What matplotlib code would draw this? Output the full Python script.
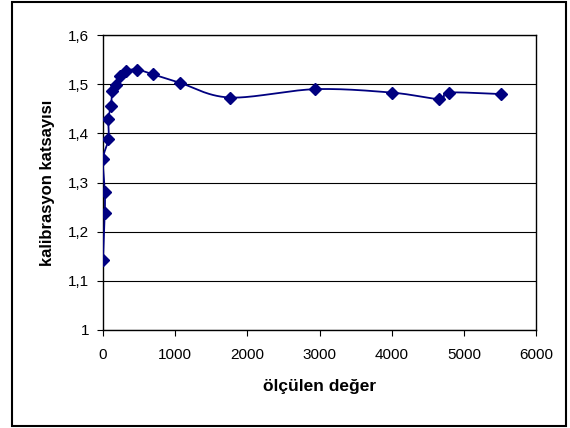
import numpy as np
import matplotlib.pyplot as plt
from matplotlib.patches import Rectangle
from matplotlib.ticker import FuncFormatter

plt.rcParams['font.family'] = ['Liberation Sans', 'DejaVu Sans']

# olculen deger vs kalibrasyon katsayisi
olcum = [0, 25, 25, 0, 75, 75, 110, 130, 175, 240, 325, 470, 695, 1065,
         1757, 2940, 4003, 4660, 4795, 5520]
katsayi = [1.142, 1.238, 1.281, 1.347, 1.388, 1.430, 1.456, 1.486, 1.498,
           1.516, 1.527, 1.530, 1.520, 1.503, 1.473, 1.490, 1.483, 1.470,
           1.483, 1.480]


def smooth(x, y, n=30):
    # catmull-rom style smoothing, like excel's smoothed line
    x = np.asarray(x, float)
    y = np.asarray(y, float)
    px = np.concatenate([[2 * x[0] - x[1]], x, [2 * x[-1] - x[-2]]])
    py = np.concatenate([[2 * y[0] - y[1]], y, [2 * y[-1] - y[-2]]])
    xs, ys = [], []
    t = np.linspace(0, 1, n)
    for i in range(1, len(px) - 2):
        for p, out in ((px, xs), (py, ys)):
            p0, p1, p2, p3 = p[i - 1], p[i], p[i + 1], p[i + 2]
            out.extend(0.5 * (2 * p1 + (-p0 + p2) * t
                              + (2 * p0 - 5 * p1 + 4 * p2 - p3) * t ** 2
                              + (-p0 + 3 * p1 - 3 * p2 + p3) * t ** 3))
    return xs, ys


fig = plt.figure(figsize=(5.7, 4.28), dpi=100)
ax = fig.add_axes([0.1807, 0.229, 0.7597, 0.689])

sx, sy = smooth(olcum, katsayi)
ax.plot(sx, sy, color='#000080', lw=1.3, zorder=3)
ax.plot(olcum, katsayi, ls='none', marker='D', ms=6.5, color='#000080', zorder=4)

ax.set_xlim(0, 6000)
ax.set_ylim(1, 1.6)
ax.set_xticks(range(0, 6001, 1000))
ax.set_yticks(np.arange(1, 1.61, 0.1))
ax.yaxis.set_major_formatter(FuncFormatter(lambda v, p: ('%.1f' % v).replace('.', ',') if abs(v - 1) > 1e-6 else '1'))
ax.grid(axis='y', color='#000000', lw=0.8)
ax.set_axisbelow(True)
ax.tick_params(direction='out', length=4, width=0.8, labelsize=11)
ax.tick_params(axis='x', pad=9)
ax.tick_params(axis='y', pad=6)
for s in ax.spines.values():
    s.set_linewidth(1.0)

ax.set_xlabel('ölçülen değer', fontsize=12.5, fontweight='bold', labelpad=12)
ax.set_ylabel('kalibrasyon katsayısı', fontsize=12, fontweight='bold', labelpad=9)

# outer frame around the chart
fig.patches.append(Rectangle((12 / 570, 2 / 428), 554 / 570, 424 / 428,
                             transform=fig.transFigure, fill=False,
                             edgecolor='black', lw=1.5))

fig.savefig('out.png', dpi=100)
